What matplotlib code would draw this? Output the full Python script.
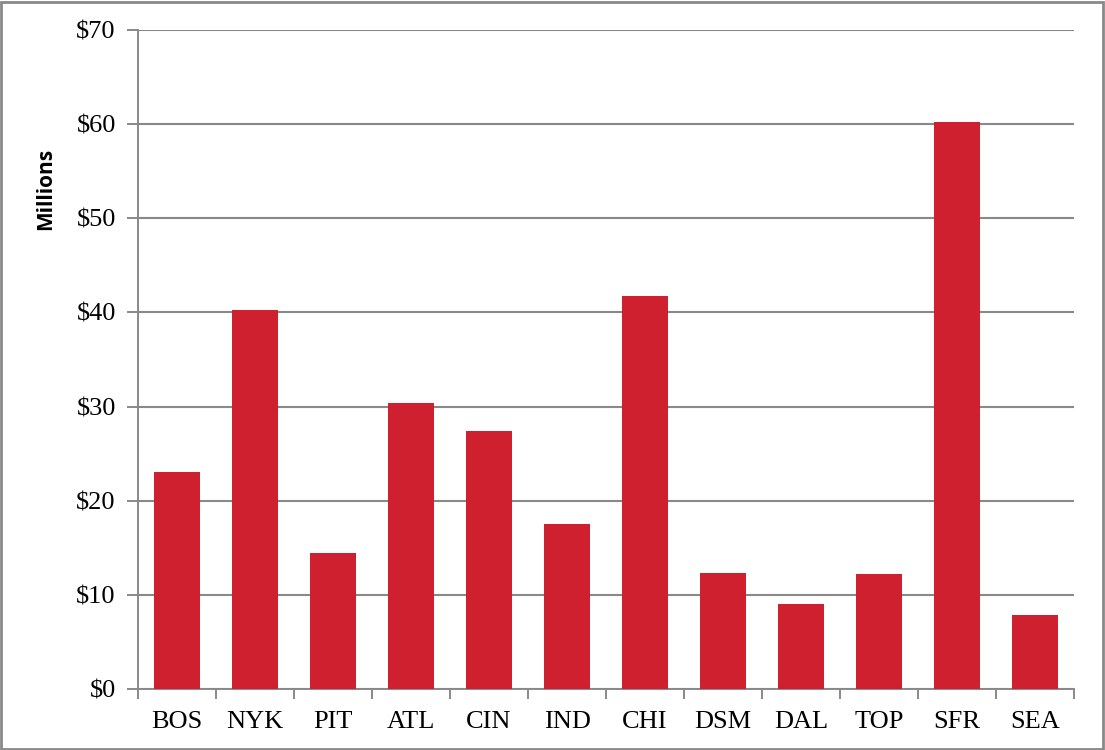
import matplotlib
matplotlib.use("Agg")
import matplotlib.pyplot as plt
from matplotlib.patches import Rectangle
from matplotlib.ticker import FixedLocator

categories = ["BOS", "NYK", "PIT", "ATL", "CIN", "IND", "CHI", "DSM", "DAL", "TOP", "SFR", "SEA"]
values = [23.05, 40.26, 14.45, 30.38, 27.4, 17.53, 41.75, 12.32, 9.03, 12.2, 60.23, 7.86]
yticks = [0, 10, 20, 30, 40, 50, 60, 70]
ytick_labels = ["$" + str(v) for v in yticks]

fig = plt.figure(figsize=(11.05, 7.5), dpi=100)
ax = fig.add_axes([0.1249, 0.0813, 0.8471, 0.8787])

x = list(range(len(categories)))
ax.bar(x, values, width=0.6, color="#CF202F", zorder=3)

ax.set_xlim(-0.5, len(categories) - 0.5)
ax.set_ylim(0, 70)
ax.set_yticks(yticks)
ax.set_yticklabels(ytick_labels, fontfamily="Liberation Serif", fontsize=19)
ax.set_xticks(x)
ax.set_xticklabels(categories, fontfamily="Liberation Serif", fontsize=19)
ax.tick_params(axis="x", which="major", length=0, pad=16)
ax.xaxis.set_minor_locator(FixedLocator([i - 0.5 for i in range(len(categories) + 1)]))
ax.tick_params(axis="x", which="minor", length=7, width=1.4, color="#898989", direction="out")
ax.tick_params(axis="y", length=8, width=1.4, color="#898989", pad=8)

ax.yaxis.grid(True, color="#898989", linewidth=1.5, zorder=0)
for s in ["top", "right"]:
    ax.spines[s].set_visible(False)
for s in ["left", "bottom"]:
    ax.spines[s].set_color("#898989")
    ax.spines[s].set_linewidth(1.4)

ax.set_ylabel("Millions", fontfamily="Open Sans", fontweight="bold", fontsize=15)
ax.yaxis.set_label_coords(-0.088, 0.759)

fig.patches.append(Rectangle((0.001, 0.001), 0.997, 0.996, transform=fig.transFigure,
                             fill=False, edgecolor="#898989", linewidth=2))

fig.savefig("out.png", dpi=100)
